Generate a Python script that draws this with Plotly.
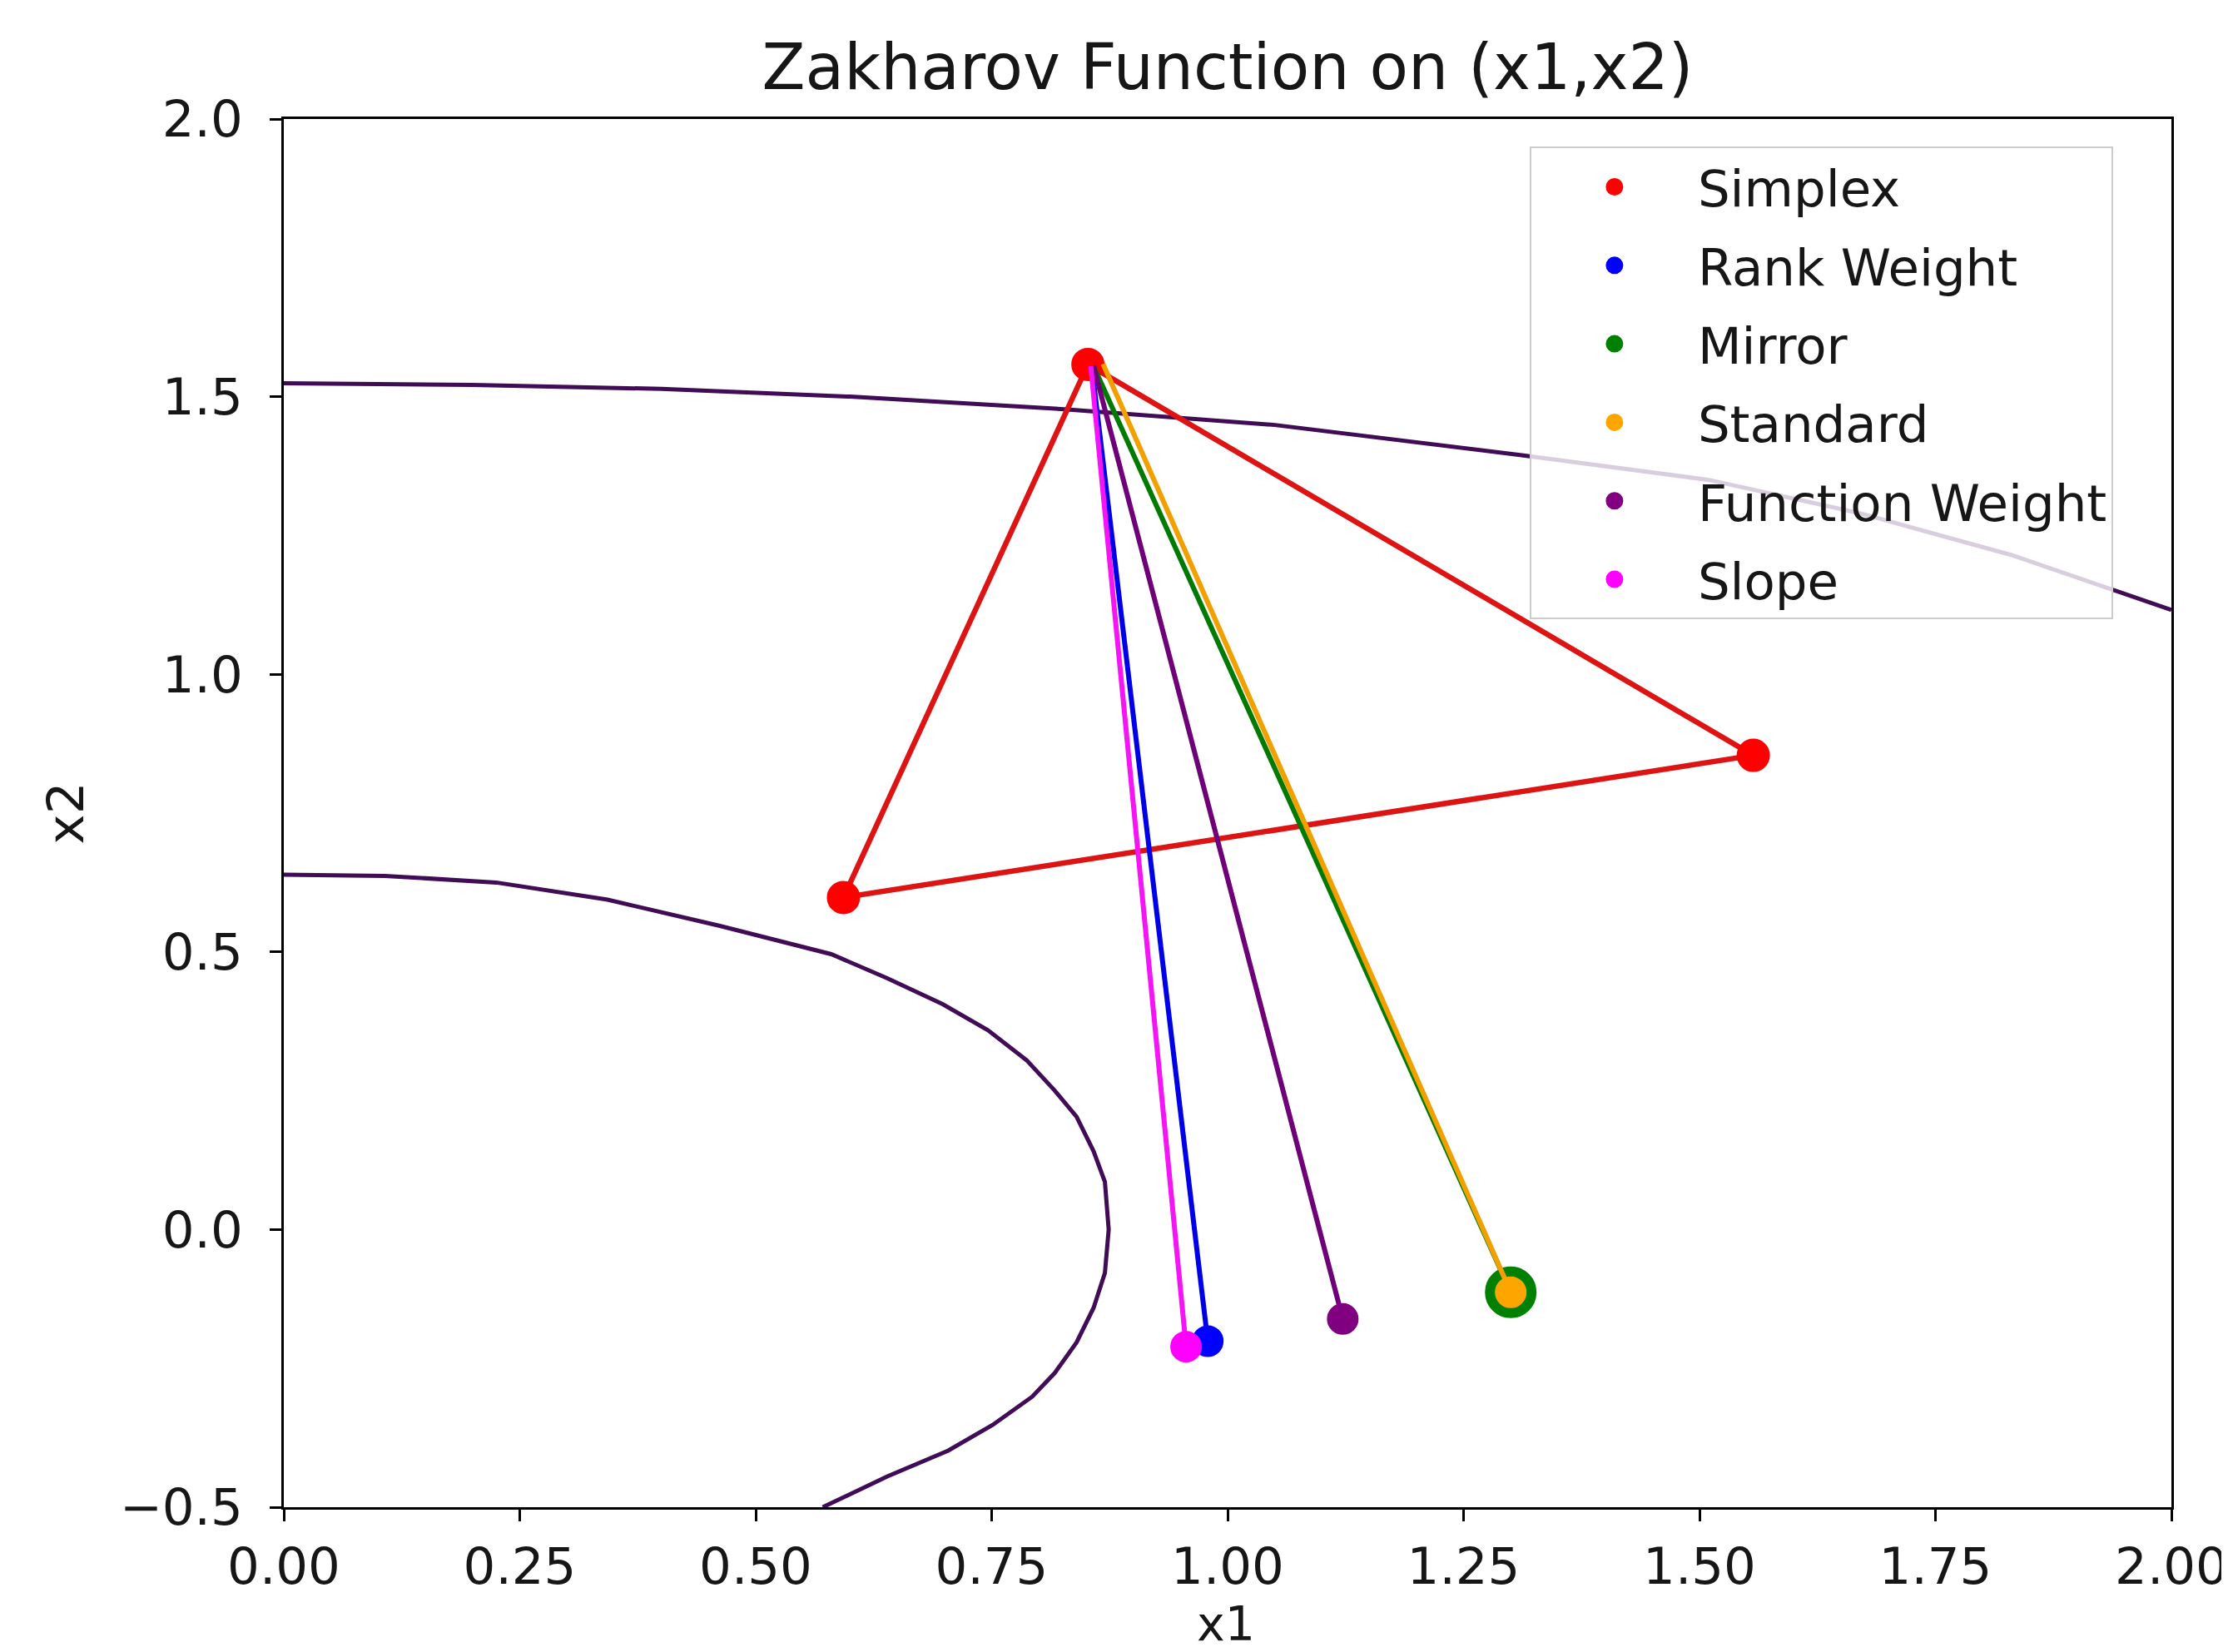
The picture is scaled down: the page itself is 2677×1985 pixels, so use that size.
import plotly.graph_objects as go

# ---------------- data ----------------
simplex_x1 = [0.852, 0.593, 1.557]
simplex_x2 = [1.558, 0.598, 0.854]

methods = ["Rank Weight", "Mirror", "Standard", "Function Weight", "Slope"]
method_x1 = [0.979, 1.300, 1.300, 1.122, 0.956]
method_x2 = [-0.201, -0.113, -0.113, -0.161, -0.211]
# where each method's move line starts (near the worst vertex)
line_start_x1 = [0.856, 0.858, 0.868, 0.858, 0.855]
line_start_x2 = [1.555, 1.555, 1.559, 1.555, 1.555]

# contour lines of the objective
inner_x1 = [0.0, 0.107, 0.225, 0.343, 0.462, 0.580, 0.639, 0.698, 0.746, 0.787,
            0.817, 0.840, 0.858, 0.870, 0.874, 0.870, 0.858, 0.840, 0.817, 0.793,
            0.751, 0.704, 0.639, 0.580, 0.571]
inner_x2 = [0.639, 0.637, 0.625, 0.594, 0.547, 0.496, 0.453, 0.406, 0.359, 0.305,
            0.250, 0.203, 0.141, 0.086, 0.0, -0.078, -0.141, -0.203, -0.258, -0.301,
            -0.352, -0.398, -0.445, -0.492, -0.500]
outer_x1 = [0.0, 0.2, 0.4, 0.6, 0.83, 1.05, 1.31, 1.51, 1.67, 1.83, 2.0]
outer_x2 = [1.524, 1.521, 1.514, 1.500, 1.477, 1.449, 1.395, 1.350, 1.290, 1.215, 1.116]

x_ticks = [0.0, 0.25, 0.5, 0.75, 1.0, 1.25, 1.5, 1.75, 2.0]
y_ticks = [-0.5, 0.0, 0.5, 1.0, 1.5, 2.0]

title_text = "Zakharov Function on (x1,x2)"
x_label = "x1"
y_label = "x2"

# ---------------- styles ----------------
method_colors = ["#0000ff", "#008000", "#ffa500", "#800080", "#ff00ff"]
method_line_colors = ["#0000e6", "#007a00", "#f2a000", "#6e0078", "#f414f4"]
method_sizes = [33, 57, 33, 33, 33]   # plus a 5px rim of the same colour
contour_color = "#400c55"
FONT = "DejaVu Sans"
TXT = "#161616"

fig = go.Figure()

for cx, cy in [(inner_x1, inner_x2), (outer_x1, outer_x2)]:
    fig.add_trace(go.Scatter(x=cx, y=cy, mode="lines",
                             line=dict(color=contour_color, width=5),
                             showlegend=False, hoverinfo="skip"))

# simplex triangle
fig.add_trace(go.Scatter(x=simplex_x1 + simplex_x1[:1], y=simplex_x2 + simplex_x2[:1],
                         mode="lines", line=dict(color="#dc1414", width=6.5),
                         showlegend=False, hoverinfo="skip"))
fig.add_trace(go.Scatter(x=simplex_x1, y=simplex_x2, mode="markers",
                         marker=dict(color="#ff0000", size=35,
                                     line=dict(color="#ff0000", width=5)),
                         name="Simplex", legendgroup="g0"))

for i, name in enumerate(methods):
    fig.add_trace(go.Scatter(x=[line_start_x1[i], method_x1[i]],
                             y=[line_start_x2[i], method_x2[i]],
                             mode="lines", line=dict(color=method_line_colors[i], width=6),
                             showlegend=False, hoverinfo="skip"))
    fig.add_trace(go.Scatter(x=[method_x1[i]], y=[method_x2[i]], mode="markers",
                             marker=dict(color=method_colors[i], size=method_sizes[i],
                                         line=dict(color=method_colors[i], width=5)),
                             name=name, legendgroup="g%d" % (i + 1)))

axis_common = dict(showgrid=False, zeroline=False, showline=True, linecolor="black",
                   linewidth=3, mirror=True, ticks="outside", ticklen=14, tickwidth=3,
                   tickcolor="black", automargin=False,
                   tickfont=dict(family=FONT, size=61, color=TXT))

# the page body adds an 8px offset; margins compensate for it
fig.update_layout(
    width=2677, height=1985,
    margin=dict(l=333, r=76, t=135, b=182),
    paper_bgcolor="white", plot_bgcolor="white",
    font=dict(family=FONT, color=TXT),
    title=dict(text=title_text, x=0.548, xanchor="center", y=1 - 72 / 1985, yanchor="middle",
               font=dict(family=FONT, size=76, color=TXT)),
    xaxis=dict(range=[0, 2], tickvals=x_ticks, tickformat=".2f", ticklabelstandoff=2,
               **axis_common),
    yaxis=dict(range=[-0.5, 2], tickvals=y_ticks, tickformat=".1f", ticklabelstandoff=20,
               title=dict(text=y_label, font=dict(family=FONT, size=61, color=TXT), standoff=24),
               **axis_common),
    legend=dict(x=0.660, y=0.980, xanchor="left", yanchor="top",
                bgcolor="rgba(255,255,255,0.8)", bordercolor="#cccccc", borderwidth=2,
                font=dict(family=FONT, size=61, color=TXT),
                tracegroupgap=12, itemwidth=190, traceorder="grouped"),
)

# x-axis title as an annotation so it stays fully inside the page
fig.add_annotation(text=x_label, xref="paper", yref="paper", x=0.499, y=-0.084,
                   xanchor="center", yanchor="middle", showarrow=False,
                   font=dict(family=FONT, size=57, color=TXT))

fig.write_html("out.html")
